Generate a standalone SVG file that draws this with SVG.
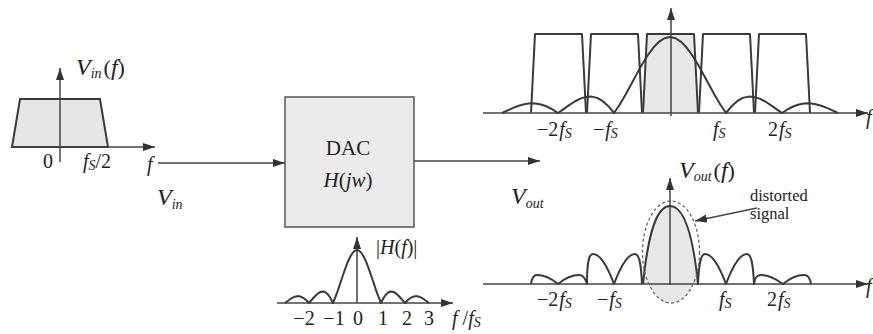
<svg xmlns="http://www.w3.org/2000/svg" width="873" height="334" viewBox="0 0 873 334" font-family="'Liberation Serif', 'Times New Roman', serif">
<defs>
<marker id="ah" markerUnits="userSpaceOnUse" markerWidth="13" markerHeight="9" refX="12" refY="4" orient="auto">
<path d="M0,0 L12,4 L0,8 z" fill="#333"/>
</marker>
<style>
.ax{stroke:#444;stroke-width:1.5;fill:none}
.cv{stroke:#3a3a3a;stroke-width:2;fill:none;stroke-linejoin:round}
.gf{fill:#e8e8e8;stroke:none}
text{font-family:'Liberation Serif','Times New Roman',serif;fill:#222}
.lb{font-size:20px}
.it{font-style:italic}
.sub{font-style:italic;font-size:14px}
</style>
</defs>
<rect width="873" height="334" fill="#fff"/>

<g id="input-spectrum">
<path d="M12,147 L20,99 L100,99 L108,147 Z" fill="#e6e6e6" stroke="#3a3a3a" stroke-width="2"/>
<line class="ax" x1="12" y1="147" x2="155" y2="147" marker-end="url(#ah)"/>
<line class="ax" x1="60" y1="162" x2="60" y2="68" marker-end="url(#ah)"/>
<text x="76" y="75" class="it" font-size="24">V<tspan class="sub" font-size="15" dy="3">in</tspan><tspan dy="-3" font-style="normal" font-size="22" dx="2">(</tspan>f<tspan font-style="normal" font-size="22">)</tspan></text>
<text x="43" y="168" class="lb">0</text>
<text x="83" y="168" class="lb"><tspan class="it">f</tspan><tspan class="sub" dy="2">S</tspan><tspan dy="-2">/2</tspan></text>
<text x="147" y="171" class="lb it">f</text>
<text x="157" y="205" class="it" font-size="24">V<tspan class="sub" font-size="15" dy="4">in</tspan></text>
</g>

<g id="dac">
<rect x="285" y="97" width="129" height="130" fill="#ebebeb" stroke="#555" stroke-width="1.5"/>
<text x="348" y="155" font-size="21" text-anchor="middle">DAC</text>
<text x="348" y="187" font-size="21" text-anchor="middle"><tspan class="it">H</tspan>(<tspan class="it">jw</tspan>)</text>
</g>

<g id="hf-plot">
<line class="ax" x1="277" y1="303" x2="453" y2="303" marker-end="url(#ah)"/>
<line class="ax" x1="357" y1="303" x2="357" y2="237" marker-end="url(#ah)"/>
<polyline class="cv" points="285,303 287.4,301.2 289.8,299.5 292.2,297.9 294.6,296.8 297,296.25 299.4,296.3 301.8,297.1 304.2,298.5 306.6,300.5 309,303 311.4,300.25 313.8,297.5 316.2,295 318.6,293 321,291.75 323.4,291.5 325.8,292.5 328.2,294.7 330.6,298.3 333,303 335.4,297.2 337.8,290.6 340.2,283.5 342.6,276.3 345,269.3 347.4,262.9 349.8,257.5 352.2,253.4 354.6,250.87 357,250 359.4,250.87 361.8,253.4 364.2,257.5 366.6,262.9 369,269.3 371.4,276.3 373.8,283.5 376.2,290.6 378.6,297.2 381,303 383.4,298.3 385.8,294.7 388.2,292.5 390.6,291.5 393,291.75 395.4,293 397.8,295 400.2,297.5 402.6,300.25 405,303 407.4,300.5 409.8,298.5 412.2,297.1 414.6,296.3 417,296.25 419.4,296.8 421.8,297.9 424.2,299.5 426.6,301.2 429,303"/>
<text x="376" y="254" class="lb">|<tspan class="it">H</tspan>(<tspan class="it">f</tspan>)|</text>
<text y="325" class="lb" text-anchor="middle"><tspan x="304">−2</tspan><tspan x="334">−1</tspan><tspan x="358">0</tspan><tspan x="383">1</tspan><tspan x="407">2</tspan><tspan x="429">3</tspan></text>
<text x="452" y="325" class="lb"><tspan class="it">f</tspan> /<tspan class="it">f</tspan><tspan class="sub" dy="2">S</tspan></text>
</g>

<g id="top-spectrum">
<path d="M643,113 L647,34 L694,34 L698,113 Z" class="gf"/>
<g fill="none" stroke="#3a3a3a" stroke-width="2" stroke-linejoin="round">
<path d="M531,113 L535,34 L582,34 L586,113"/>
<path d="M587,113 L591,34 L638,34 L642,113"/>
<path d="M643,113 L647,34 L694,34 L698,113"/>
<path d="M699,113 L703,34 L750,34 L754,113"/>
<path d="M755,113 L759,34 L806,34 L810,113"/>
</g>
<line class="ax" x1="483" y1="113" x2="868" y2="113" marker-end="url(#ah)"/>
<line class="ax" x1="671" y1="116" x2="671" y2="8" marker-end="url(#ah)"/>
<polyline class="cv" points="502,113 507.6,110.4 513.2,107.9 518.8,105.75 524.4,104.2 530,103.3 535.6,103.4 541.2,104.5 546.8,106.5 552.4,109.4 558,113 563.6,109.1 569.2,105.1 574.8,101.5 580.4,98.6 586,96.9 591.6,96.6 597.2,97.9 602.8,101.15 608.4,106.2 614,113 619.6,104.7 625.2,95.2 630.8,85.04 636.4,74.65 642,64.6 647.6,55.5 653.2,47.8 658.8,41.9 664.4,38.25 670,37 675.6,38.25 681.2,41.9 686.8,47.8 692.4,55.5 698,64.6 703.6,74.65 709.2,85.04 714.8,95.2 720.4,104.7 726,113 731.6,106.2 737.2,101.15 742.8,97.9 748.4,96.6 754,96.9 759.6,98.6 765.2,101.5 770.8,105.1 776.4,109.1 782,113 787.6,109.4 793.2,106.5 798.8,104.5 804.4,103.4 810,103.3 815.6,104.2 821.2,105.75 826.8,107.9 832.4,110.4 838,113"/>
<text x="537" y="136" class="lb">−2<tspan class="it" dx="1">f</tspan><tspan class="sub" dy="2">S</tspan></text>
<text x="593" y="136" class="lb">−<tspan class="it" dx="1">f</tspan><tspan class="sub" dy="2">S</tspan></text>
<text x="713" y="136" class="lb"><tspan class="it">f</tspan><tspan class="sub" dy="2">S</tspan></text>
<text x="768" y="136" class="lb">2<tspan class="it" dx="1">f</tspan><tspan class="sub" dy="2">S</tspan></text>
<text x="866" y="124" class="lb it">f</text>
</g>

<g id="output-spectrum">
<path d="M648.8,284 A28.5,51 0 0 0 693.2,284 Z" class="gf"/>
<path d="M643,284 C648,235 656,206 670,206 C684,206 693,235 698,284 Z" class="gf"/>
<line class="ax" x1="483" y1="284" x2="868" y2="284" marker-end="url(#ah)"/>
<line class="ax" x1="670" y1="285" x2="670" y2="178" marker-end="url(#ah)"/>
<path class="cv" d="M531,284 C532,277 534,275 537,275 C545,275 552,279 558,284 C564,279 571,275 579,275 C582,275 585,277 587,284 C587,262 589,254 593,254 C601,254 608,268 614,284 C620,268 627,254 635,254 C639,254 641,262 642,284 M643,284 C648,235 656,206 670,206 C684,206 693,235 698,284 C699,262 701,254 705,254 C713,254 720,268 726,284 C732,268 739,254 747,254 C751,254 753,262 754,284 C755,277 757,275 761,275 C769,275 776,279 783,284 C789,279 796,275 804,275 C807,275 810,277 811,284"/>
<ellipse cx="671" cy="252" rx="28.5" ry="51" fill="none" stroke="#666" stroke-width="1.3" stroke-dasharray="3,2.5"/>
<text x="679" y="178" class="it" font-size="24">V<tspan class="sub" font-size="15" dy="3">out</tspan><tspan dy="-3" font-style="normal" font-size="22" dx="2">(</tspan>f<tspan font-style="normal" font-size="22">)</tspan></text>
<text x="750" y="201" font-size="16.5">distorted</text>
<text x="750" y="219" font-size="16.5">signal</text>
<line x1="757" y1="208" x2="695" y2="221" stroke="#444" stroke-width="1.3" marker-end="url(#ah)"/>
<text x="537" y="306" class="lb">−2<tspan class="it" dx="1">f</tspan><tspan class="sub" dy="2">S</tspan></text>
<text x="597" y="306" class="lb">−<tspan class="it" dx="1">f</tspan><tspan class="sub" dy="2">S</tspan></text>
<text x="719" y="306" class="lb"><tspan class="it">f</tspan><tspan class="sub" dy="2">S</tspan></text>
<text x="767" y="306" class="lb">2<tspan class="it" dx="1">f</tspan><tspan class="sub" dy="2">S</tspan></text>
<text x="866" y="293" class="lb it">f</text>
<text x="511" y="204" class="it" font-size="24">V<tspan class="sub" font-size="15" dy="4">out</tspan></text>
</g>

<g id="connectors">
<line class="ax" x1="158" y1="163" x2="285" y2="163" marker-end="url(#ah)"/>
<line class="ax" x1="414" y1="161" x2="540" y2="161" marker-end="url(#ah)"/>
</g>
</svg>
